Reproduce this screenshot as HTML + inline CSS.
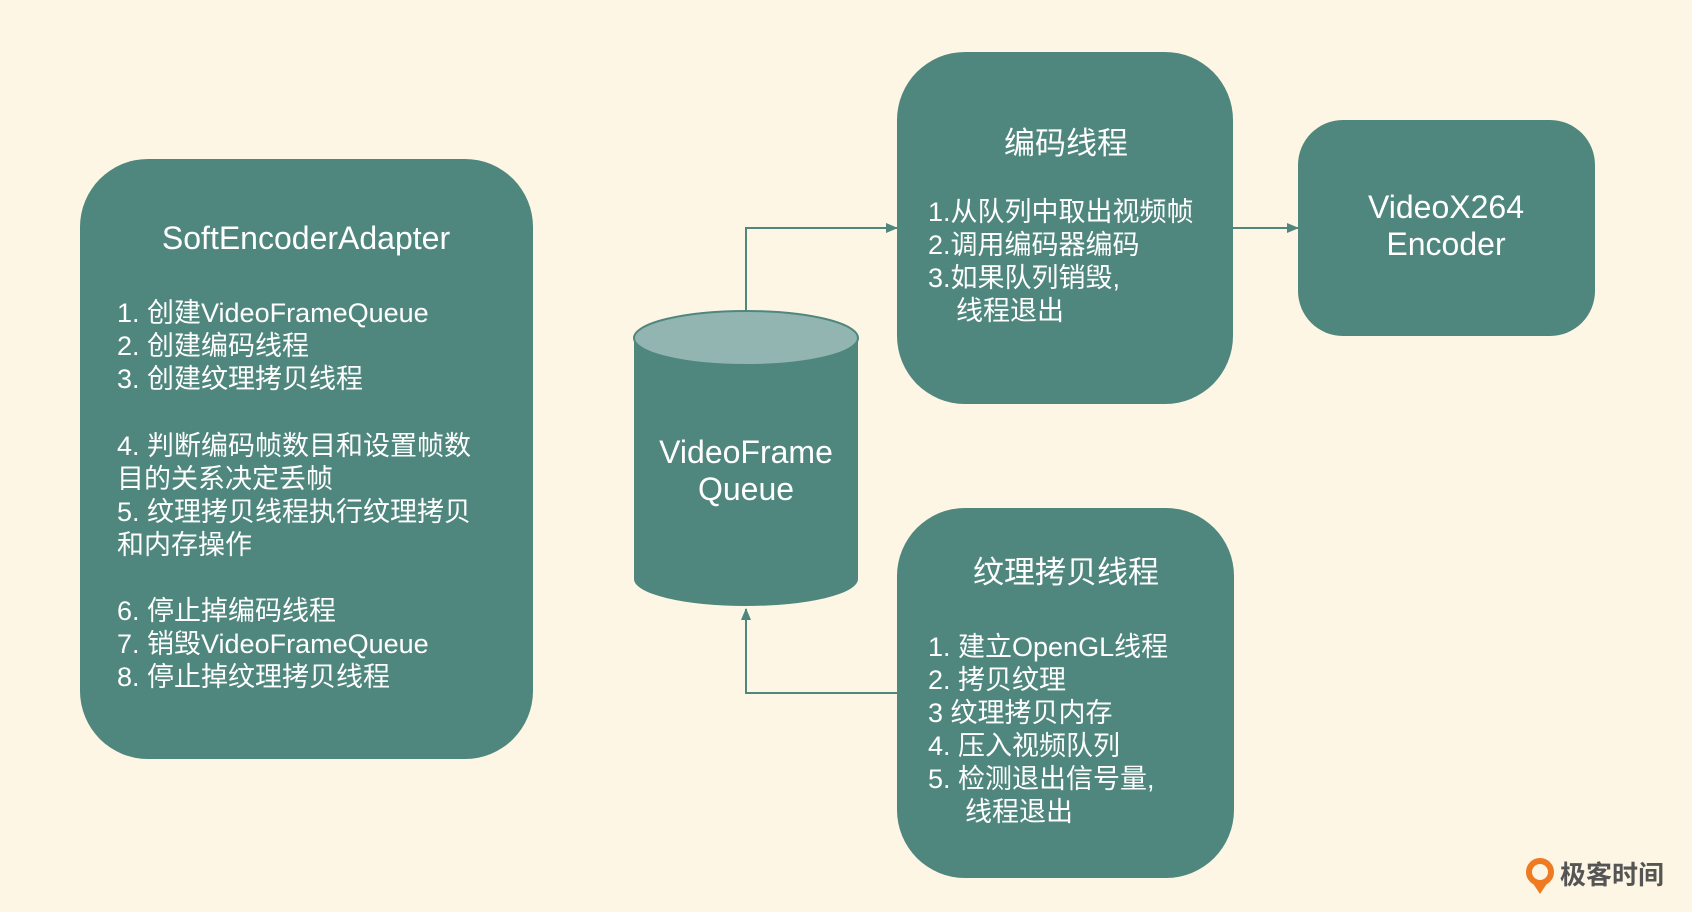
<!DOCTYPE html>
<html><head><meta charset="utf-8"><style>
html,body{margin:0;padding:0;background:#fdf6e4;}
svg{display:block}
text{font-family:"Liberation Sans","Noto Sans CJK SC",sans-serif;fill:#ffffff;}
</style></head><body>
<svg width="1692" height="912" viewBox="0 0 1692 912" xmlns="http://www.w3.org/2000/svg">
<rect width="1692" height="912" fill="#fdf6e4"/>
<defs><marker id="ah" markerWidth="12" markerHeight="12" refX="11" refY="6" orient="auto" markerUnits="userSpaceOnUse"><path d="M0,1 L12,6 L0,11 Z" fill="#4f877e"/></marker></defs>
<!-- Left box -->
<rect x="80" y="159" width="453" height="600" rx="68" fill="#4f877e"/>
<text x="306" y="249" font-size="32" text-anchor="middle">SoftEncoderAdapter</text>
<g font-size="27">
<text x="117" y="322">1. 创建VideoFrameQueue</text>
<text x="117" y="355">2. 创建编码线程</text>
<text x="117" y="388">3. 创建纹理拷贝线程</text>
<text x="117" y="455">4. 判断编码帧数目和设置帧数</text>
<text x="117" y="488">目的关系决定丢帧</text>
<text x="117" y="521">5. 纹理拷贝线程执行纹理拷贝</text>
<text x="117" y="554">和内存操作</text>
<text x="117" y="620">6. 停止掉编码线程</text>
<text x="117" y="653">7. 销毁VideoFrameQueue</text>
<text x="117" y="686">8. 停止掉纹理拷贝线程</text>
</g>
<!-- connectors -->
<path d="M746,311 V228 H897" fill="none" stroke="#4f877e" stroke-width="2" marker-end="url(#ah)"/>
<path d="M897,693 H746 V609" fill="none" stroke="#4f877e" stroke-width="2" marker-end="url(#ah)"/>
<path d="M1233,228 H1298" fill="none" stroke="#4f877e" stroke-width="2" marker-end="url(#ah)"/>
<!-- Cylinder -->
<path d="M634,338 V579 A112,27 0 0 0 858,579 V338 Z" fill="#4f877e"/>
<ellipse cx="746" cy="338" rx="112" ry="27" fill="#93b5b1" stroke="#4f877e" stroke-width="2"/>
<text x="746" y="463" font-size="32" text-anchor="middle">VideoFrame</text>
<text x="746" y="500" font-size="32" text-anchor="middle">Queue</text>
<!-- encode thread -->
<rect x="897" y="52" width="336" height="352" rx="68" fill="#4f877e"/>
<text x="1066" y="154" font-size="31" text-anchor="middle">编码线程</text>
<g font-size="27">
<text x="928" y="221">1.从队列中取出视频帧</text>
<text x="928" y="254">2.调用编码器编码</text>
<text x="928" y="287">3.如果队列销毁,</text>
<text x="956" y="320">线程退出</text>
</g>
<!-- X264 -->
<rect x="1298" y="120" width="297" height="216" rx="45" fill="#4f877e"/>
<text x="1446" y="218" font-size="32" text-anchor="middle">VideoX264</text>
<text x="1446" y="255" font-size="32" text-anchor="middle">Encoder</text>
<!-- texture thread -->
<rect x="897" y="508" width="337" height="370" rx="68" fill="#4f877e"/>
<text x="1066" y="583" font-size="31" text-anchor="middle">纹理拷贝线程</text>
<g font-size="27">
<text x="928" y="656">1. 建立OpenGL线程</text>
<text x="928" y="689">2. 拷贝纹理</text>
<text x="928" y="722">3 纹理拷贝内存</text>
<text x="928" y="755">4. 压入视频队列</text>
<text x="928" y="788">5. 检测退出信号量,</text>
<text x="965" y="821">线程退出</text>
</g>
<!-- logo -->
<circle cx="1540" cy="872" r="11" fill="none" stroke="#ee7a22" stroke-width="6"/>
<path d="M1532,882 L1540,894 L1548,882 Z" fill="#ee7a22"/>
<text x="1560" y="884" font-size="26" style="fill:#555555;font-weight:bold">极客时间</text>
</svg>
</body></html>
